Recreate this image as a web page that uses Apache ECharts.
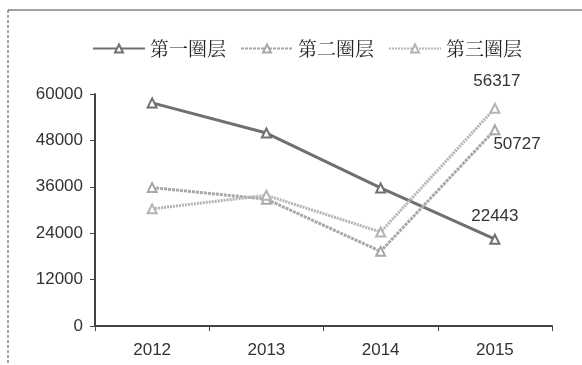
<!DOCTYPE html>
<html>
<head>
<meta charset="utf-8">
<script src="https://cdn.jsdelivr.net/npm/echarts@6/dist/echarts.min.js"></script>
<style>
  html, body {margin: 0; padding: 0; background: #fff;}
  #main {width: 582px; height: 365px;}
</style>
</head>
<body>
<div id="main"></div>
<script>
var years = ['2012', '2013', '2014', '2015'];
var names = ['第一圈层', '第二圈层', '第三圈层'];
var ring1 = [57700, 49900, 35700, 22443];
var ring2 = [35800, 32800, 19300, 50727];
var ring3 = [30300, 33800, 24300, 56317];

var chart = echarts.init(document.getElementById('main'));

// only the last point gets a value label
function lastLabel(pos, offset) {
    return {
        show: true, position: pos, offset: offset,
        fontFamily: 'Liberation Sans, Arial', fontSize: 17, color: '#333',
        formatter: function (p) { return p.dataIndex === years.length - 1 ? p.value : ''; }
    };
}

chart.setOption({
    animation: false,
    backgroundColor: '#fff',
    graphic: [
        {type: 'line', shape: {x1: 8, y1: 10, x2: 582, y2: 10}, style: {stroke: '#444', lineWidth: 1.2}},
        {type: 'line', shape: {x1: 8, y1: 10, x2: 8, y2: 365}, style: {stroke: '#666', lineWidth: 1.2, lineDash: [3, 2]}}
    ],
    legend: {
        top: 34, left: 87,
        itemWidth: 52, itemHeight: 10, itemGap: 14,
        textStyle: {fontFamily: 'Noto Serif CJK SC, Noto Sans CJK SC', fontSize: 19, color: '#222'},
        data: names
    },
    grid: {left: 95, right: 30, top: 94, bottom: 39},
    xAxis: {
        type: 'category', data: years, boundaryGap: true,
        axisLine: {lineStyle: {color: '#444', width: 2}},
        axisTick: {show: true, length: 5, lineStyle: {color: '#444'}},
        axisLabel: {color: '#333', fontSize: 17, fontFamily: 'Liberation Sans, Arial', margin: 16}
    },
    yAxis: {
        type: 'value', min: 0, max: 60000, interval: 12000,
        splitLine: {show: false},
        axisLine: {show: true, lineStyle: {color: '#444', width: 2}},
        axisTick: {show: true, length: 5, lineStyle: {color: '#444'}},
        axisLabel: {color: '#333', fontSize: 17, fontFamily: 'Liberation Sans, Arial', margin: 12,
                    formatter: function (v) { return String(v); }}
    },
    series: [
        {
            name: names[0], type: 'line', data: ring1,
            symbol: 'emptyTriangle', symbolSize: 9,
            lineStyle: {color: '#707070', width: 3},
            itemStyle: {color: '#707070', borderWidth: 1.5},
            label: lastLabel('top', [0, -4])
        },
        {
            name: names[1], type: 'line', data: ring2,
            symbol: 'emptyTriangle', symbolSize: 9,
            lineStyle: {color: '#a8a8a8', width: 3, type: [3, 1]},
            itemStyle: {color: '#a8a8a8', borderWidth: 1.5},
            label: lastLabel('right', [-12, 14])
        },
        {
            name: names[2], type: 'line', data: ring3,
            symbol: 'emptyTriangle', symbolSize: 9,
            lineStyle: {color: '#b4b4b4', width: 3, type: [2, 1]},
            itemStyle: {color: '#b4b4b4', borderWidth: 1.5},
            label: lastLabel('top', [2, -8])
        }
    ]
});
</script>
</body>
</html>
